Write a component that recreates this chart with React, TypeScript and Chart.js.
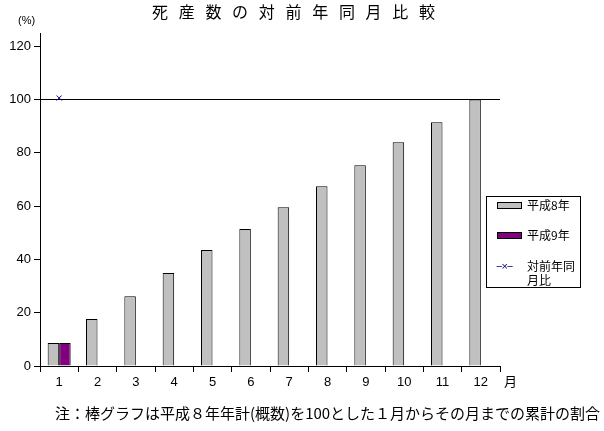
import React, { useEffect, useRef } from "react";
import { Chart, registerables } from "chart.js";

Chart.register(...registerables);

const months = ["1", "2", "3", "4", "5", "6", "7", "8", "9", "10", "11", "12"];
const heisei8 = [8.6, 17.6, 26.2, 34.9, 43.5, 51.4, 59.6, 67.5, 75.4, 84.0, 91.5, 100.0];
const heisei9 = [8.6, null, null, null, null, null, null, null, null, null, null, null];
const ratio = [100.6, null, null, null, null, null, null, null, null, null, null, null];
const yTicks = [0, 20, 40, 60, 80, 100, 120];

const titleText = "死産数の対前年同月比較";
const noteText = "注：棒グラフは平成８年年計(概数)を100とした１月からその月までの累計の割合";
const legendLabels = ["平成8年", "平成9年", "対前年同月比"];

const FONT = "'Liberation Sans', Arial, 'Noto Sans CJK JP', sans-serif";
const JFONT = "'Noto Sans CJK JP', sans-serif";

export default function App() {
  const ref = useRef<HTMLCanvasElement>(null);
  useEffect(() => {
    if (!ref.current) return;
    const chart = new Chart(ref.current, {
      type: "bar",
      data: {
        labels: months,
        datasets: [
          {
            label: legendLabels[0],
            data: heisei8,
            backgroundColor: "#c0c0c0",
            borderColor: "#000",
            borderWidth: 1,
            categoryPercentage: 0.6,
            barPercentage: 1.0,
            order: 2,
          },
          {
            label: legendLabels[1],
            data: heisei9 as any,
            backgroundColor: "#800080",
            borderColor: "#000",
            borderWidth: 1,
            categoryPercentage: 0.6,
            barPercentage: 1.0,
            order: 2,
          },
          {
            type: "line" as any,
            label: legendLabels[2],
            data: ratio as any,
            borderColor: "#000080",
            backgroundColor: "#000080",
            borderWidth: 1,
            pointStyle: "crossRot",
            pointRadius: 3.5,
            pointBorderWidth: 1,
            showLine: true,
            order: 1,
          },
        ],
      },
      options: {
        responsive: false,
        animation: false,
        layout: { padding: { top: 33, left: 0, right: 104, bottom: 35 } },
        plugins: {
          legend: { display: false },
          title: { display: false },
          tooltip: { enabled: false },
        },
        scales: {
          x: {
            offset: true,
            grid: {
              offset: true,
              drawOnChartArea: false,
              tickLength: 6,
              tickColor: "#000",
              color: "#000",
            },
            border: { color: "#000", width: 1 },
            ticks: {
              color: "#000",
              font: { family: FONT, size: 13 },
              padding: 3,
              maxRotation: 0,
            },
            afterFit: (s: any) => {
              s.height = 30;
            },
          },
          y: {
            min: 0,
            max: 125,
            ticks: {
              stepSize: 20,
              color: "#000",
              font: { family: FONT, size: 13 },
              padding: 3,
            },
            afterBuildTicks: (s: any) => {
              s.ticks = yTicks.map((v) => ({ value: v }));
            },
            grid: {
              drawTicks: true,
              tickLength: 6,
              tickColor: "#000",
              color: (ctx: any) =>
                ctx.tick && ctx.tick.value === 100 ? "#000" : "rgba(0,0,0,0)",
              lineWidth: 1,
            },
            border: { color: "#000", width: 1 },
            afterFit: (s: any) => {
              s.width = 40;
            },
          },
        },
      },
    });
    return () => chart.destroy();
  }, []);

  const swatch = (bg: string) => ({
    position: "absolute" as const,
    left: 10,
    width: 23,
    height: 5,
    background: bg,
    border: "1px solid #000",
  });

  return (
    <div
      style={{
        position: "fixed",
        left: 0,
        top: 0,
        width: 604,
        height: 431,
        background: "#fff",
        overflow: "hidden",
      }}
    >
      <canvas ref={ref} width={604} height={431} style={{ position: "absolute", left: 0, top: 0 }} />
      <div
        style={{
          position: "absolute",
          left: 152,
          top: 2,
          fontFamily: JFONT,
          fontSize: 16,
          lineHeight: "18px",
          letterSpacing: "10.7px",
          whiteSpace: "nowrap",
          color: "#000",
        }}
      >
        {titleText}
      </div>
      <div
        style={{
          position: "absolute",
          left: 18,
          top: 14,
          fontFamily: FONT,
          fontSize: 11,
          lineHeight: "12px",
          color: "#000",
        }}
      >
        (%)
      </div>
      <div
        style={{
          position: "absolute",
          left: 504,
          top: 373,
          fontFamily: JFONT,
          fontSize: 13,
          lineHeight: "16px",
          color: "#000",
        }}
      >
        月
      </div>
      <div
        style={{
          position: "absolute",
          left: 55,
          top: 404,
          fontFamily: JFONT,
          fontSize: 15,
          lineHeight: "18px",
          whiteSpace: "nowrap",
          color: "#000",
        }}
      >
        {noteText}
      </div>
      <div
        style={{
          position: "absolute",
          left: 486,
          top: 196,
          width: 95,
          height: 92,
          border: "1px solid #000",
          boxSizing: "border-box",
          fontFamily: JFONT,
          fontSize: 12,
          lineHeight: "14px",
          color: "#000",
        }}
      >
        <div style={{ ...swatch("#c0c0c0"), top: 5 }} />
        <div style={{ position: "absolute", left: 40, top: 1 }}>{legendLabels[0]}</div>
        <div style={{ ...swatch("#800080"), top: 35 }} />
        <div style={{ position: "absolute", left: 40, top: 31 }}>{legendLabels[1]}</div>
        <div
          style={{
            position: "absolute",
            left: 9,
            top: 62,
            width: 25,
            height: 14,
            color: "#000080",
            fontFamily: FONT,
            fontSize: 11,
            lineHeight: "14px",
            letterSpacing: "-1px",
          }}
        >
          −×−
        </div>
        <div style={{ position: "absolute", left: 40, top: 62 }}>対前年同</div>
        <div style={{ position: "absolute", left: 40, top: 76 }}>月比</div>
      </div>
    </div>
  );
}
